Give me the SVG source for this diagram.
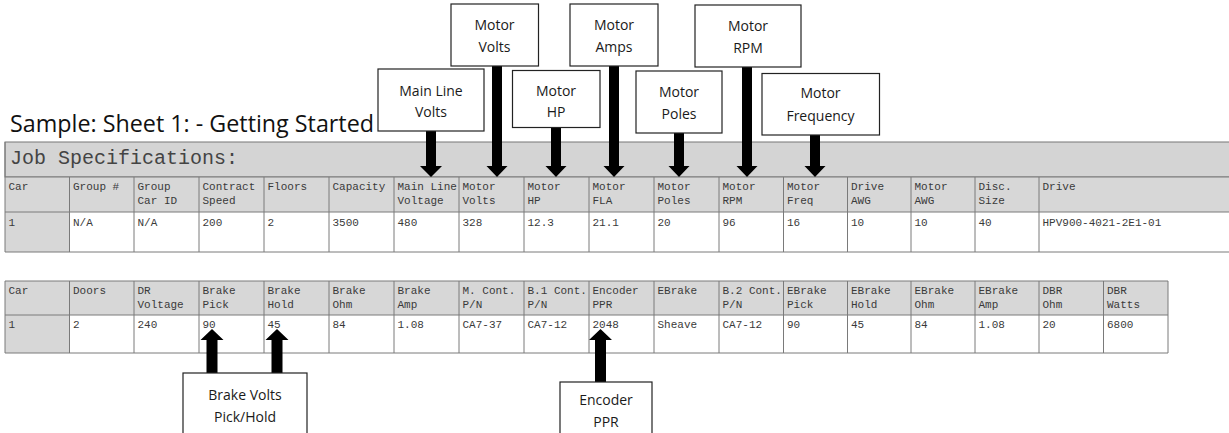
<svg xmlns="http://www.w3.org/2000/svg" width="1229" height="433" viewBox="0 0 1229 433">
<style>
.box{fill:#fff;stroke:#222;stroke-width:1.2}
.lbl{font-family:"Open Sans","Noto Sans",sans-serif;font-size:14px;fill:#1a1a1a;text-anchor:middle}
.t{font-family:"Liberation Mono","Courier New",monospace;font-size:11px;fill:#3a3a3a}
.hdr{fill:#d7d7d7}
.grid{stroke:#7a7a7a;stroke-width:1;fill:none}
.arr{fill:#000}
</style>
<rect width="1229" height="433" fill="#fff"/>
<text x="10" y="131.5" font-family="'Open Sans','Noto Sans',sans-serif" font-size="23.5" fill="#111" textLength="364" lengthAdjust="spacingAndGlyphs">Sample: Sheet 1: - Getting Started</text>

<g id="table1">
<rect x="5" y="142" width="1230" height="35" fill="#d4d4d4" stroke="#777"/>
<text x="10" y="164" font-family="'Liberation Mono','Courier New',monospace" font-size="20" fill="#444">Job Specifications:</text>
<rect class="hdr" x="5" y="177" width="1230" height="35"/>
<rect x="5" y="212" width="1230" height="40" fill="#fff"/>
<rect class="hdr" x="5" y="212" width="64.5" height="40"/>
<path class="grid" d="M5 177H1235M5 212H1235M5 252H1235M5 142V252M69.5 177V252M134 177V252M199 177V252M264 177V252M329 177V252M394 177V252M459 177V252M524 177V252M589 177V252M654 177V252M719 177V252M783.5 177V252M847.5 177V252M911 177V252M975 177V252M1039 177V252"/>
<g class="t">
<text x="8.5" y="189.5">Car</text>
<text x="73" y="189.5">Group #</text>
<text x="137.5" y="189.5">Group</text><text x="137.5" y="203.5">Car ID</text>
<text x="202.5" y="189.5">Contract</text><text x="202.5" y="203.5">Speed</text>
<text x="267.5" y="189.5">Floors</text>
<text x="332.5" y="189.5">Capacity</text>
<text x="397.5" y="189.5">Main Line</text><text x="397.5" y="203.5">Voltage</text>
<text x="462.5" y="189.5">Motor</text><text x="462.5" y="203.5">Volts</text>
<text x="527.5" y="189.5">Motor</text><text x="527.5" y="203.5">HP</text>
<text x="592.5" y="189.5">Motor</text><text x="592.5" y="203.5">FLA</text>
<text x="657.5" y="189.5">Motor</text><text x="657.5" y="203.5">Poles</text>
<text x="722.5" y="189.5">Motor</text><text x="722.5" y="203.5">RPM</text>
<text x="787" y="189.5">Motor</text><text x="787" y="203.5">Freq</text>
<text x="851" y="189.5">Drive</text><text x="851" y="203.5">AWG</text>
<text x="914.5" y="189.5">Motor</text><text x="914.5" y="203.5">AWG</text>
<text x="978.5" y="189.5">Disc.</text><text x="978.5" y="203.5">Size</text>
<text x="1042.5" y="189.5">Drive</text>
<text x="8.5" y="226">1</text>
<text x="73" y="226">N/A</text>
<text x="137.5" y="226">N/A</text>
<text x="202.5" y="226">200</text>
<text x="267.5" y="226">2</text>
<text x="332.5" y="226">3500</text>
<text x="397.5" y="226">480</text>
<text x="462.5" y="226">328</text>
<text x="527.5" y="226">12.3</text>
<text x="592.5" y="226">21.1</text>
<text x="657.5" y="226">20</text>
<text x="722.5" y="226">96</text>
<text x="787" y="226">16</text>
<text x="851" y="226">10</text>
<text x="914.5" y="226">10</text>
<text x="978.5" y="226">40</text>
<text x="1042.5" y="226">HPV900-4021-2E1-01</text>
</g>
</g>

<g id="table2">
<rect class="hdr" x="5" y="281" width="1163" height="34"/>
<rect x="5" y="315" width="1163" height="38" fill="#fff"/>
<rect class="hdr" x="5" y="315" width="64.5" height="38"/>
<path class="grid" d="M5 281H1168M5 315H1168M5 353H1168M5 281V353M69.5 281V353M134 281V353M199 281V353M264 281V353M329 281V353M394 281V353M459 281V353M524 281V353M589 281V353M654 281V353M719 281V353M783.5 281V353M847.5 281V353M911 281V353M975 281V353M1039 281V353M1103.5 281V353M1168 281V353"/>
<g class="t">
<text x="8.5" y="293.5">Car</text>
<text x="73" y="293.5">Doors</text>
<text x="137.5" y="293.5">DR</text><text x="137.5" y="307.5">Voltage</text>
<text x="202.5" y="293.5">Brake</text><text x="202.5" y="307.5">Pick</text>
<text x="267.5" y="293.5">Brake</text><text x="267.5" y="307.5">Hold</text>
<text x="332.5" y="293.5">Brake</text><text x="332.5" y="307.5">Ohm</text>
<text x="397.5" y="293.5">Brake</text><text x="397.5" y="307.5">Amp</text>
<text x="462.5" y="293.5">M. Cont.</text><text x="462.5" y="307.5">P/N</text>
<text x="527.5" y="293.5">B.1 Cont.</text><text x="527.5" y="307.5">P/N</text>
<text x="592.5" y="293.5">Encoder</text><text x="592.5" y="307.5">PPR</text>
<text x="657.5" y="293.5">EBrake</text>
<text x="722.5" y="293.5">B.2 Cont.</text><text x="722.5" y="307.5">P/N</text>
<text x="787" y="293.5">EBrake</text><text x="787" y="307.5">Pick</text>
<text x="851" y="293.5">EBrake</text><text x="851" y="307.5">Hold</text>
<text x="914.5" y="293.5">EBrake</text><text x="914.5" y="307.5">Ohm</text>
<text x="978.5" y="293.5">EBrake</text><text x="978.5" y="307.5">Amp</text>
<text x="1042.5" y="293.5">DBR</text><text x="1042.5" y="307.5">Ohm</text>
<text x="1107" y="293.5">DBR</text><text x="1107" y="307.5">Watts</text>
<text x="8.5" y="328">1</text>
<text x="73" y="328">2</text>
<text x="137.5" y="328">240</text>
<text x="202.5" y="328">90</text>
<text x="267.5" y="328">45</text>
<text x="332.5" y="328">84</text>
<text x="397.5" y="328">1.08</text>
<text x="462.5" y="328">CA7-37</text>
<text x="527.5" y="328">CA7-12</text>
<text x="592.5" y="328">2048</text>
<text x="657.5" y="328">Sheave</text>
<text x="722.5" y="328">CA7-12</text>
<text x="787" y="328">90</text>
<text x="851" y="328">45</text>
<text x="914.5" y="328">84</text>
<text x="978.5" y="328">1.08</text>
<text x="1042.5" y="328">20</text>
<text x="1107" y="328">6800</text>
</g>
</g>

<g id="connectors" class="arr">
<polygon points="426,131 436,131 436,166 442,166 431,177 420,166 426,166"/>
<polygon points="492,66 502,66 502,166 507.5,166 497,177 486.5,166 492,166"/>
<polygon points="551,127 561,127 561,166 566.5,166 556,177 545.5,166 551,166"/>
<polygon points="609,66 619,66 619,166 624.5,166 614,177 603.5,166 609,166"/>
<polygon points="674,133 684,133 684,166 689.5,166 679,177 668.5,166 674,166"/>
<polygon points="742,67 752,67 752,166 757.5,166 747,177 736.5,166 742,166"/>
<polygon points="810,135 820,135 820,166 825.5,166 815,177 804.5,166 810,166"/>
<polygon points="206.5,373 217.5,373 217.5,340 223.5,340 212,329 200.5,340 206.5,340"/>
<polygon points="271.5,373 282.5,373 282.5,340 288.5,340 277,329 265.5,340 271.5,340"/>
<polygon points="595,382 606,382 606,340 612,340 600.5,329 589,340 595,340"/>
</g>

<g id="n-mainline"><rect class="box" x="378" y="69" width="106" height="62"/><text class="lbl" x="431" y="95.5">Main Line</text><text class="lbl" x="431" y="117">Volts</text></g>
<g id="n-motorvolts"><rect class="box" x="451" y="4" width="87.5" height="62"/><text class="lbl" x="494.5" y="29.5">Motor</text><text class="lbl" x="494.5" y="51.5">Volts</text></g>
<g id="n-motorhp"><rect class="box" x="512.5" y="70.5" width="87.5" height="57"/><text class="lbl" x="556" y="95.5">Motor</text><text class="lbl" x="556" y="117">HP</text></g>
<g id="n-motoramps"><rect class="box" x="570" y="4" width="88" height="62"/><text class="lbl" x="614" y="30">Motor</text><text class="lbl" x="614" y="52">Amps</text></g>
<g id="n-motorpoles"><rect class="box" x="636" y="71" width="86" height="62"/><text class="lbl" x="679" y="97">Motor</text><text class="lbl" x="679" y="119">Poles</text></g>
<g id="n-motorrpm"><rect class="box" x="695" y="5" width="106" height="62"/><text class="lbl" x="748" y="31">Motor</text><text class="lbl" x="748" y="53">RPM</text></g>
<g id="n-motorfreq"><rect class="box" x="762" y="73.5" width="117.5" height="61.5"/><text class="lbl" x="820.5" y="98">Motor</text><text class="lbl" x="820.5" y="120.5">Frequency</text></g>
<g id="n-brakevolts"><rect class="box" x="183" y="373" width="124" height="80"/><text class="lbl" x="245" y="400">Brake Volts</text><text class="lbl" x="245" y="422">Pick/Hold</text></g>
<g id="n-encoder"><rect class="box" x="560" y="382" width="92" height="80"/><text class="lbl" x="606" y="405">Encoder</text><text class="lbl" x="606" y="427">PPR</text></g>
</svg>
